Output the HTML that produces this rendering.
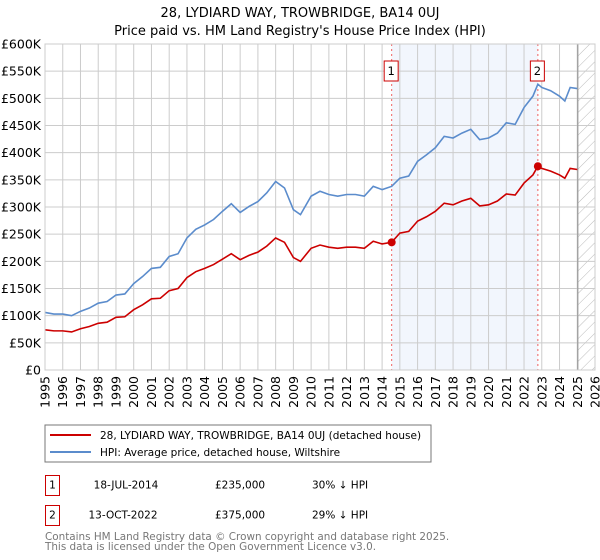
<!DOCTYPE html>
<html><head><meta charset="utf-8"><style>
body{margin:0;background:#fff;font-family:"DejaVu Sans","Liberation Sans",sans-serif;}
svg{display:block}
</style></head><body>
<svg id="chart" width="600" height="560" viewBox="0 0 600 560" font-family="DejaVu Sans, Liberation Sans, sans-serif">
<text x="300" y="17" text-anchor="middle" font-size="13">28, LYDIARD WAY, TROWBRIDGE, BA14 0UJ</text>
<text x="300" y="35" text-anchor="middle" font-size="13">Price paid vs. HM Land Registry's House Price Index (HPI)</text>
<defs><pattern id="hatch" width="8" height="8" patternUnits="userSpaceOnUse" patternTransform="rotate(45)"><line x1="0" y1="0" x2="0" y2="8" stroke="#bbb" stroke-width="1"/></pattern></defs>
<g id="plot"></g>
<rect x="45" y="425" width="386" height="37" fill="#fff" stroke="#777"/>
<line x1="50" y1="435" x2="91" y2="435" stroke="#cc0000" stroke-width="2"/>
<text x="100" y="439" font-size="10.5">28, LYDIARD WAY, TROWBRIDGE, BA14 0UJ (detached house)</text>
<line x1="50" y1="452" x2="91" y2="452" stroke="#5b8ccc" stroke-width="2"/>
<text x="100" y="456" font-size="10.5">HPI: Average price, detached house, Wiltshire</text>
<g font-size="10.5">
<rect x="45.5" y="475.5" width="14" height="20" fill="#fff" stroke="#cc0000"/>
<text x="52.5" y="488.5" text-anchor="middle">1</text>
<text x="126" y="488.5" text-anchor="middle">18-JUL-2014</text>
<text x="215" y="488.5">£235,000</text>
<text x="312" y="488.5">30% ↓ HPI</text>
</g>
<g font-size="10.5">
<rect x="45.5" y="505.5" width="14" height="20" fill="#fff" stroke="#cc0000"/>
<text x="52.5" y="518.5" text-anchor="middle">2</text>
<text x="123" y="518.5" text-anchor="middle">13-OCT-2022</text>
<text x="215" y="518.5">£375,000</text>
<text x="312" y="518.5">29% ↓ HPI</text>
</g>
<text x="45" y="540" font-size="10.4" fill="#777">Contains HM Land Registry data © Crown copyright and database right 2025.</text>
<text x="45" y="550" font-size="10.4" fill="#777">This data is licensed under the Open Government Licence v3.0.</text>
</svg>
<script>
const hpiYears=[1995,1995.5,1996,1996.5,1997,1997.5,1998,1998.5,1999,1999.5,2000,2000.5,2001,2001.5,2002,2002.5,2003,2003.5,2004,2004.5,2005,2005.5,2006,2006.5,2007,2007.5,2008,2008.5,2009,2009.4,2010,2010.5,2011,2011.5,2012,2012.5,2013,2013.5,2014,2014.54,2015,2015.5,2016,2016.5,2017,2017.5,2018,2018.5,2019,2019.5,2020,2020.5,2021,2021.5,2022,2022.5,2022.78,2023,2023.5,2024,2024.3,2024.6,2025];
const hpiValues=[106,103,103,100,108,114,123,126,138,140,159,172,187,189,209,214,243,259,267,277,292,306,290,301,310,326,347,335,295,286,320,329,323,320,323,323,320,338,332,338,353,357,384,396,409,430,427,436,443,424,427,436,455,452,483,504,526,520,514,504,495,520,518];
const priceValues=[74,72,72,70,76,80,86,88,97,98,111,120,131,132,146,150,170,181,187,194,204,214,203,211,217,228,243,235,207,200,224,230,226,224,226,226,224,237,232,235,252,255,274,282,292,307,304,311,316,302,304,311,324,322,344,359,375,371,366,359,353,371,369];
const saleYears=[2014.54,2022.78];
const salePrices=[235,375];
const saleLabels=['1','2'];
const yTicks=[0,50,100,150,200,250,300,350,400,450,500,550,600];
const yTickLabels=['£0','£50K','£100K','£150K','£200K','£250K','£300K','£350K','£400K','£450K','£500K','£550K','£600K'];
const xTicks=[1995,1996,1997,1998,1999,2000,2001,2002,2003,2004,2005,2006,2007,2008,2009,2010,2011,2012,2013,2014,2015,2016,2017,2018,2019,2020,2021,2022,2023,2024,2025,2026];
const dataEnd=2025.03;

const NS='http://www.w3.org/2000/svg';
const X0=45,X1=595,Y0=370,Y1=44;
const xs=y=>X0+(y-1995)/(2026-1995)*(X1-X0);
const ys=v=>Y0-v/600*(Y0-Y1);
const g=document.getElementById('plot');
function mk(t,a,p){const e=document.createElementNS(NS,t);for(const k in a)e.setAttribute(k,a[k]);(p||g).appendChild(e);return e;}

const shade=mk('rect',{x:xs(saleYears[0]),y:Y1,width:xs(saleYears[1])-xs(saleYears[0]),height:Y0-Y1,fill:'#f2f6fd'});


const hat=mk('rect',{x:xs(dataEnd),y:Y1,width:X1-xs(dataEnd),height:Y0-Y1,fill:'url(#hatch)'});



yTicks.forEach((v,i)=>{
  const l=mk('line',{x1:X0,x2:X1,y1:ys(v),y2:ys(v),stroke:'#ccc','stroke-width':1});
  
  
  const t=mk('text',{x:X0-4,y:ys(v)+4.5,'text-anchor':'end','font-size':12.5});
  
  
  t.textContent=yTickLabels[i];
});
xTicks.forEach(yr=>{
  const l=mk('line',{x1:xs(yr),x2:xs(yr),y1:Y1,y2:Y0,stroke:'#ccc','stroke-width':1});
  
  
  const t=mk('text',{x:0,y:0,'text-anchor':'end','font-size':12.5,transform:`translate(${xs(yr)+4.5},${Y0+6}) rotate(-90)`});
  
  
  t.textContent=yr;
});
const endLine=mk('line',{x1:xs(dataEnd),x2:xs(dataEnd),y1:Y1,y2:Y0,stroke:'#999','stroke-width':1.2});



saleYears.forEach((yr,i)=>{
  const l=mk('line',{x1:xs(yr),x2:xs(yr),y1:Y1,y2:Y0,stroke:'#f06060','stroke-width':1,'stroke-dasharray':'2,3'});
  
  
});

const hp=mk('polyline',{points:hpiYears.map((y,i)=>xs(y)+','+ys(hpiValues[i])).join(' '),fill:'none',stroke:'#5b8ccc','stroke-width':1.6});


const pp=mk('polyline',{points:hpiYears.map((y,i)=>xs(y)+','+ys(priceValues[i])).join(' '),fill:'none',stroke:'#cc0000','stroke-width':1.6});



saleYears.forEach((yr,i)=>{
  const c=mk('circle',{cx:xs(yr),cy:ys(salePrices[i]),r:4,fill:'#cc0000'});
  
  
  const b=mk('rect',{x:xs(yr)-7.5,y:61,width:14,height:20,fill:'#fff',stroke:'#cc0000'});
  
  
  const t=mk('text',{x:xs(yr)-0.5,y:75,'text-anchor':'middle','font-size':11.5});
  
  
  t.textContent=saleLabels[i];
});
const frame=mk('rect',{x:X0,y:Y1,width:X1-X0,height:Y0-Y1,fill:'none',stroke:'#ccc'});


</script>
</body></html>
